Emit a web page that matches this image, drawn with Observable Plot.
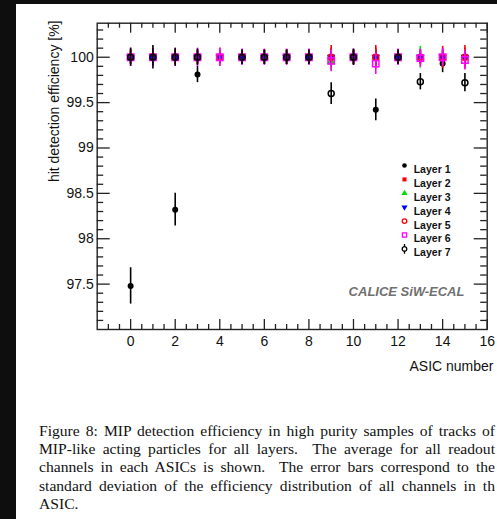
<!DOCTYPE html>
<html><head><meta charset="utf-8">
<script src="https://cdn.jsdelivr.net/npm/d3@7"></script>
<script src="https://cdn.jsdelivr.net/npm/@observablehq/plot@0.6"></script>
<style>
html,body{margin:0;padding:0;background:#0e0e0e;width:497px;height:519px;overflow:hidden;}
#page{position:absolute;left:16px;top:4px;width:481px;height:515px;background:#fff;overflow:hidden;}
#chart{position:absolute;left:0;top:0;}
#caption{position:absolute;left:23px;top:417.5px;width:456px;font-family:"Liberation Serif","Times New Roman",serif;font-size:15.6px;line-height:18.4px;color:#111;}
#caption div{text-align:justify;text-align-last:justify;white-space:nowrap;}
#caption div.last{text-align-last:left;}
</style>
</head><body>
<div id="page"><div id="chart"></div>
<div id="caption">
<div>Figure 8: MIP detection efficiency in high purity samples of tracks of</div>
<div>MIP-like acting particles for all layers.&nbsp; The average for all readout</div>
<div>channels in each ASICs is shown.&nbsp; The error bars correspond to the</div>
<div>standard deviation of the efficiency distribution of all channels in th</div>
<div class="last">ASIC.</div>
</div>
</div>
<script>
// ---- data ----
const asic = [0,1,2,3,4,5,6,7,8,9,10,11,12,13,14,15];
const layerNames = ["Layer 1","Layer 2","Layer 3","Layer 4","Layer 5","Layer 6","Layer 7"];
const layer1    = [97.48,100.0,98.32,99.81,null,100.0,100.0,100.0,100.0,null,100.0,99.42,100.0,null,99.93,null];
const layer1Err = [0.20,0.13,0.18,0.09,null,0.08,0.07,0.08,0.07,null,0.08,0.12,0.08,null,0.10,null];
const layer2    = [100,100,100,100,100,100,100,100,100,100,100,100,100,100,100,100];
const layer2Err = [0.08,0.08,0.08,0.08,0.10,0.08,0.08,0.08,0.08,0.13,0.08,0.13,0.08,0.08,0.12,0.13];
const layer3    = [100,100,100,100,100,100,100,100,100,99.95,100,100,100,100,100,100];
const layer3Err = [0.08,0.08,0.08,0.08,0.08,0.08,0.08,0.08,0.08,0.10,0.08,0.08,0.08,0.12,0.08,0.08];
const layer4    = [100,100,100,100,100,100,100,100,100,100,100,100,100,100,100,100];
const layer4Err = [0.07,0.07,0.07,0.07,0.07,0.07,0.07,0.07,0.07,0.08,0.07,0.08,0.07,0.07,0.07,0.07];
const layer5    = [100,100,100,100,100,100,100,100,100,100,100,100,100,100,100,100];
const layer5Err = [0.08,0.08,0.08,0.08,0.08,0.08,0.08,0.08,0.08,0.10,0.08,0.10,0.08,0.08,0.09,0.10];
const layer6    = [100,100,100,100,100,100,100,100,100,99.96,100,99.93,100,99.99,100,99.97];
const layer6Err = [0.10,0.10,0.10,0.10,0.10,0.09,0.09,0.09,0.09,0.12,0.09,0.12,0.09,0.10,0.10,0.11];
const layer7    = [100,100,100,100,null,100,100,100,100,99.60,100,null,100,99.73,null,99.72];
const layer7Err = [0.10,0.10,0.10,0.09,null,0.08,0.08,0.08,0.08,0.12,0.09,null,0.08,0.09,null,0.10];
const xMajor = [0,2,4,6,8,10,12,14,16];
const yMajor = [97.5,98,98.5,99,99.5,100];
const xMinor = [-1,-0.5,0.5,1,1.5,2.5,3,3.5,4.5,5,5.5,6.5,7,7.5,8.5,9,9.5,10.5,11,11.5,12.5,13,13.5,14.5,15,15.5];
const yMinor = [97.1,97.2,97.3,97.4,97.6,97.7,97.8,97.9,98.1,98.2,98.3,98.4,98.6,98.7,98.8,98.9,99.1,99.2,99.3,99.4,99.6,99.7,99.8,99.9,100.1,100.2,100.3];
const xTitle = "ASIC number";
const yTitle = "hit detection efficiency [%]";
const experiment = "CALICE SiW-ECAL";

// ---- styling ----
const triangleDown = {draw(ctx, size){ const y = -Math.sqrt(size / (3*Math.sqrt(3))); const s3 = Math.sqrt(3);
  ctx.moveTo(0, -y*2); ctx.lineTo(-s3*y, y); ctx.lineTo(s3*y, y); ctx.closePath(); }};
const circleBar = {draw(ctx, size){ const r = Math.sqrt(size/Math.PI);
  ctx.moveTo(r,0); ctx.arc(0,0,r,0,2*Math.PI); ctx.moveTo(0,-r); ctx.lineTo(0,-r-2.5); ctx.moveTo(0,r); ctx.lineTo(0,r+2.5); }};
const series = [
  {v: layer1, e: layer1Err, color:"#000", symbol:"circle", fill:"#000", stroke:"none", r:3},
  {v: layer2, e: layer2Err, color:"#ff0000", symbol:"square", fill:"#ff0000", stroke:"none", r:3.3},
  {v: layer3, e: layer3Err, color:"#00e000", symbol:"triangle", fill:"#00e000", stroke:"none", r:3.2},
  {v: layer4, e: layer4Err, color:"#0000ff", symbol:triangleDown, fill:"#0000ff", stroke:"none", r:3.2},
  {v: layer5, e: layer5Err, color:"#ff0000", symbol:"circle", fill:"none", stroke:"#ff0000", r:3},
  {v: layer6, e: layer6Err, color:"#ff00ff", symbol:"square", fill:"none", stroke:"#ff00ff", r:3.6},
  {v: layer7, e: layer7Err, color:"#000", symbol:"circle", fill:"none", stroke:"#000", r:3}
];
const legendSymbols = ["circle","square","triangle",triangleDown,"circle","square",circleBar];

const W = 481, H = 372, mL = 80.7, mR = 10.3, mT = 18.7, mB = 47;
const pw = W - mL - mR, ph = H - mT - mB;
const tickColor = "#222";

const marks = [];
series.forEach(s => {
  const rows = asic.map((a,i) => ({asic:a, v:s.v[i], e:s.e[i]})).filter(d => d.v != null);
  marks.push(Plot.ruleX(rows, {x:"asic", y1:d=>d.v-d.e, y2:d=>d.v+d.e, stroke:s.color, strokeWidth:1.6}));
  marks.push(Plot.dot(rows, {x:"asic", y:"v", symbol:s.symbol, r:s.r, fill:s.fill, stroke:s.stroke, strokeWidth:1.5}));
});
marks.push(
  Plot.tickY(yMajor, {y:d=>d, insetRight: pw-13, stroke:tickColor, strokeWidth:1.3}),
  Plot.tickY(yMinor, {y:d=>d, insetRight: pw-6.5, stroke:tickColor, strokeWidth:1.3}),
  Plot.tickY(yMajor, {y:d=>d, insetLeft: pw-13, stroke:tickColor, strokeWidth:1.3}),
  Plot.tickY(yMinor, {y:d=>d, insetLeft: pw-6.5, stroke:tickColor, strokeWidth:1.3}),
  Plot.tickX(xMajor, {x:d=>d, insetTop: ph-10, stroke:tickColor, strokeWidth:1.3}),
  Plot.tickX(xMinor, {x:d=>d, insetTop: ph-5, stroke:tickColor, strokeWidth:1.3}),
  Plot.tickX(xMajor, {x:d=>d, insetBottom: ph-10, stroke:tickColor, strokeWidth:1.3}),
  Plot.tickX(xMinor, {x:d=>d, insetBottom: ph-5, stroke:tickColor, strokeWidth:1.3}),
  Plot.frame({stroke:tickColor, strokeWidth:1.4}),
  Plot.axisX({ticks:xMajor, tickSize:0, tickPadding:7, label:null, tickFormat:d=>String(d), fill:"#111"}),
  Plot.axisY({ticks:yMajor, tickSize:0, tickPadding:3.5, label:null, tickFormat:d=>String(d), fill:"#111"}),
  Plot.text([xTitle], {text:d=>d, frameAnchor:"bottom-right", dx:6.3, dy:41, textAnchor:"end", fontSize:14, fill:"#111"}),
  Plot.text([yTitle], {text:d=>d, frameAnchor:"top-left", rotate:-90, dx:-48.5, dy:-2.7, textAnchor:"end", fontSize:14, fill:"#111"}),
  Plot.text([experiment], {text:d=>d, frameAnchor:"bottom-right", dx:-80.7, dy:-34, textAnchor:"middle", fontSize:13, fontWeight:"bold", fontStyle:"italic", fill:"#707070"})
);
layerNames.forEach((name, i) => {
  const s = series[i];
  const dy = 142.3 + i*13.9;
  marks.push(Plot.dot([name], {frameAnchor:"top-left", dx:307.3, dy, symbol:legendSymbols[i], r:2.3,
    fill:s.fill, stroke:s.stroke, strokeWidth:1.3}));
  marks.push(Plot.text([name], {text:d=>d, frameAnchor:"top-left", dx:316.5, dy, textAnchor:"start", fontSize:10.5, fontWeight:"bold", fill:"#111"}));
});

const chart = Plot.plot({
  width: W, height: H, marginLeft: mL, marginRight: mR, marginTop: mT, marginBottom: mB,
  x: {domain:[-1.5, 16]},
  y: {domain:[97, 100.375]},
  style: {fontFamily:"'Liberation Sans', Arial, sans-serif", fontSize:"14px", background:"transparent", overflow:"visible"},
  marks
});
document.getElementById("chart").appendChild(chart);
</script>
</body></html>
